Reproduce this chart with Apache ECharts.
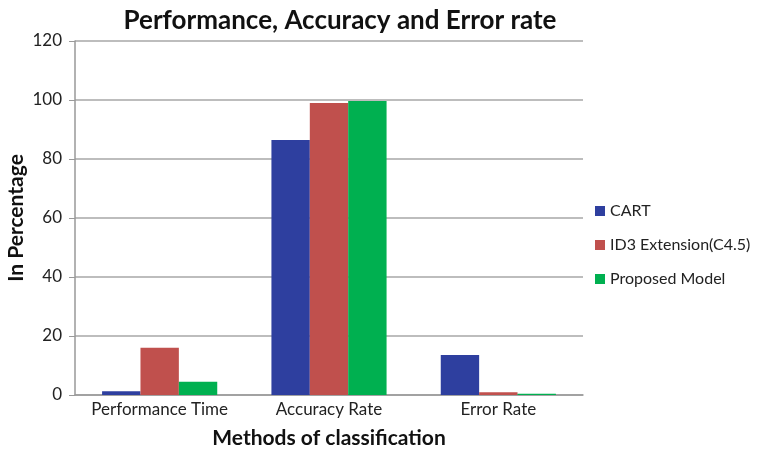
<!DOCTYPE html>
<html><head><meta charset="utf-8">
<script src="https://cdn.jsdelivr.net/npm/echarts@6/dist/echarts.min.js"></script>
<style>html,body{margin:0;padding:0;background:#fff}#c{width:764px;height:449px}</style>
</head><body><div id="c"></div>
<script>
const categories = ['Performance Time', 'Accuracy Rate', 'Error Rate'];
const seriesNames = ['CART', 'ID3 Extension(C4.5)', 'Proposed Model'];
const cart = [1.3, 86.4, 13.6];
const id3 = [16.0, 99.0, 0.9];
const proposed = [4.5, 99.7, 0.4];
const yTicks = [0, 20, 40, 60, 80, 100, 120];
const colors = ['#2E3F9F', '#C0504D', '#00B050'];
const font = 'Lato, "Open Sans", sans-serif';

const chart = echarts.init(document.getElementById('c'));
const values = [cart, id3, proposed];
chart.setOption({
  animation: false,
  title: {
    text: 'Performance, Accuracy and Error rate',
    left: 335, top: 3, textAlign: 'center',
    textStyle: {fontFamily: font, fontSize: 26, fontWeight: 'bold', color: '#111'}
  },
  legend: {
    orient: 'vertical', left: 590, top: 198, itemGap: 18,
    itemWidth: 10, itemHeight: 10, icon: 'rect',
    textStyle: {fontFamily: font, fontSize: 16, color: '#222'},
    data: seriesNames
  },
  grid: {left: 75, right: 181, top: 41, bottom: 54, containLabel: false, outerBoundsMode: 'none'},
  xAxis: {
    type: 'category', data: categories,
    name: 'Methods of classification', nameLocation: 'middle', nameGap: 33, nameMoveOverlap: false,
    nameTextStyle: {fontFamily: font, fontSize: 21, fontWeight: 'bold', color: '#111'},
    axisLine: {lineStyle: {color: '#999', width: 1.5}},
    axisTick: {show: false},
    axisLabel: {fontFamily: font, fontSize: 17, color: '#222', margin: 6, interval: 0, hideOverlap: false}
  },
  yAxis: {
    type: 'value', min: 0, max: 120, interval: 20,
    name: 'In Percentage', nameLocation: 'middle', nameGap: 48, nameMoveOverlap: false,
    nameTextStyle: {fontFamily: font, fontSize: 21, fontWeight: 'bold', color: '#111'},
    axisLine: {show: true, lineStyle: {color: '#999', width: 1.5}},
    axisTick: {show: true, length: 6, lineStyle: {color: '#999'}},
    axisLabel: {fontFamily: font, fontSize: 17, color: '#222', margin: 13,
      formatter: v => yTicks.includes(v) ? String(v) : ''},
    splitLine: {lineStyle: {color: '#bdbdbd', width: 2}}
  },
  series: seriesNames.map((n, i) => ({
    name: n, type: 'bar', data: values[i],
    barGap: '0%', barCategoryGap: '32%',
    itemStyle: {color: colors[i]}
  }))
});
</script></body></html>
